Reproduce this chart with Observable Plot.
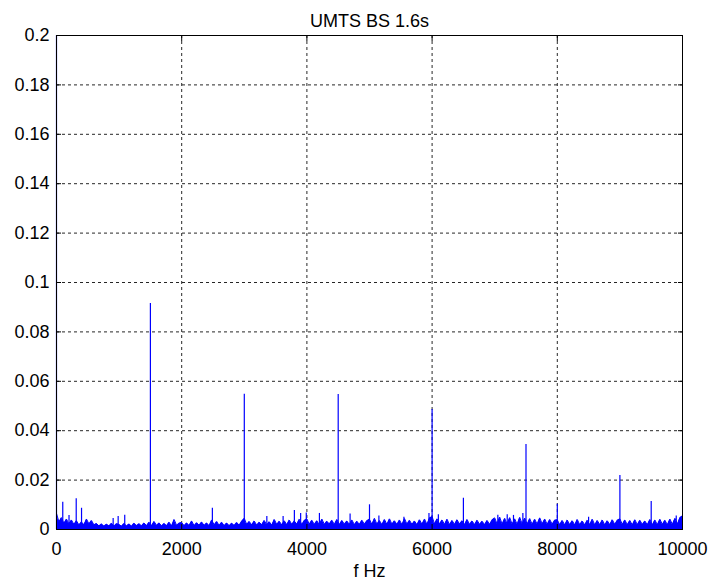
<!DOCTYPE html>
<html>
<head>
<meta charset="utf-8">
<script src="https://cdn.jsdelivr.net/npm/d3@7"></script>
<script src="https://cdn.jsdelivr.net/npm/@observablehq/plot@0.6"></script>
<style>
  html, body { margin: 0; padding: 0; background: #fff; }
  svg { font-family: "Liberation Sans", Arial, sans-serif; }
</style>
</head>
<body>
<div id="chart"></div>
<script>
// ---- Data ----
const title = "UMTS BS 1.6s";
const xLabel = "f Hz";
const xTicks = [0, 2000, 4000, 6000, 8000, 10000];
const yTicks = [0, 0.02, 0.04, 0.06, 0.08, 0.1, 0.12, 0.14, 0.16, 0.18, 0.2];

// noise floor: one value per 40 Hz bin, 0 .. 10000 Hz
const binHz = 40;
const noise = [
  // 0 - 960
  0.0065,0.0030,0.0048,0.0024,0.0042,0.0022,0.0038,0.0020,0.0035,0.0018,0.0030,0.0019,0.0042,0.0022,0.0036,0.0018,0.0024,0.0014,0.0022,0.0013,0.0021,0.0014,0.0025,0.0013,0.0023,
  // 1000 - 1960
  0.0020,0.0013,0.0024,0.0014,0.0022,0.0013,0.0025,0.0015,0.0023,0.0014,0.0026,0.0015,0.0029,0.0015,0.0032,0.0016,0.0026,0.0014,0.0024,0.0015,0.0029,0.0014,0.0040,0.0016,0.0025,
  // 2000 - 2960
  0.0028,0.0015,0.0026,0.0016,0.0034,0.0015,0.0027,0.0017,0.0030,0.0016,0.0026,0.0015,0.0038,0.0018,0.0032,0.0016,0.0029,0.0015,0.0026,0.0015,0.0025,0.0016,0.0028,0.0017,0.0033,
  // 3000 - 3960
  0.0045,0.0020,0.0032,0.0018,0.0034,0.0017,0.0029,0.0019,0.0036,0.0018,0.0031,0.0017,0.0040,0.0020,0.0033,0.0018,0.0035,0.0019,0.0038,0.0020,0.0034,0.0021,0.0041,0.0019,0.0036,
  // 4000 - 4960
  0.0043,0.0021,0.0037,0.0020,0.0035,0.0019,0.0042,0.0020,0.0033,0.0022,0.0037,0.0020,0.0040,0.0019,0.0036,0.0021,0.0034,0.0020,0.0038,0.0019,0.0033,0.0020,0.0037,0.0021,0.0035,
  // 5000 - 5960
  0.0041,0.0020,0.0045,0.0021,0.0036,0.0019,0.0040,0.0020,0.0043,0.0021,0.0035,0.0020,0.0038,0.0019,0.0044,0.0021,0.0037,0.0020,0.0034,0.0019,0.0039,0.0021,0.0042,0.0020,0.0047,
  // 6000 - 6960
  0.0052,0.0022,0.0043,0.0021,0.0038,0.0020,0.0041,0.0019,0.0036,0.0020,0.0039,0.0021,0.0035,0.0019,0.0040,0.0020,0.0034,0.0019,0.0037,0.0020,0.0033,0.0019,0.0036,0.0020,0.0038,
  // 7000 - 7960
  0.0047,0.0022,0.0050,0.0021,0.0045,0.0022,0.0048,0.0021,0.0043,0.0020,0.0049,0.0022,0.0046,0.0021,0.0044,0.0020,0.0041,0.0021,0.0047,0.0022,0.0042,0.0020,0.0040,0.0021,0.0037,
  // 8000 - 8960
  0.0039,0.0019,0.0036,0.0018,0.0038,0.0019,0.0035,0.0018,0.0040,0.0019,0.0034,0.0018,0.0037,0.0019,0.0041,0.0018,0.0036,0.0019,0.0038,0.0018,0.0035,0.0019,0.0039,0.0020,0.0037,
  // 9000 - 10000
  0.0043,0.0020,0.0038,0.0019,0.0036,0.0018,0.0039,0.0019,0.0037,0.0020,0.0034,0.0019,0.0040,0.0018,0.0038,0.0019,0.0041,0.0020,0.0037,0.0019,0.0042,0.0020,0.0045,0.0021,0.0048,0.0055
];

// narrow spectral lines (frequency in Hz, amplitude)
const peakFreq = [0, 100, 200, 315, 400, 905, 985, 1090, 1500, 2490, 3000, 3360, 3620, 3800, 3900, 3990, 4200, 4500, 4690, 5000, 5150, 5550, 5950, 6000, 6100, 6500, 7050, 7200, 7300, 7450, 7500, 8000, 8500, 9000, 9500, 9900];
const peakAmp  = [0.2, 0.011, 0.0057, 0.0125, 0.0086, 0.0045, 0.0053, 0.0058, 0.0915, 0.0086, 0.0548, 0.0053, 0.0053, 0.0077, 0.0065, 0.0067, 0.0065, 0.0547, 0.0063, 0.0100, 0.0055, 0.0050, 0.0065, 0.0486, 0.0060, 0.0127, 0.0058, 0.0060, 0.0057, 0.0065, 0.0344, 0.0102, 0.0050, 0.0219, 0.0113, 0.0055];

// ---- Build tables ----
const noiseData = noise.map((v, i) => ({f: i * binHz, a: v}));
const peakData = peakFreq.map((f, i) => ({f, a: peakAmp[i]}));
const gridX = xTicks.slice(1, -1);
const gridY = yTicks.slice(1, -1);
const font = "'Liberation Sans', Arial, sans-serif";

const chart = Plot.plot({
  width: 710,
  height: 584,
  marginLeft: 56,
  marginRight: 28,
  marginTop: 35,
  marginBottom: 55,
  style: {fontSize: "18px", fontFamily: font, color: "#000", background: "#fff"},
  x: {domain: [0, 10000], ticks: xTicks, label: null},
  y: {domain: [0, 0.2], ticks: yTicks, label: null},
  marks: [
    Plot.ruleX(gridX, {stroke: "#000", strokeDasharray: "3,3", strokeOpacity: 0.85}),
    Plot.ruleY(gridY, {stroke: "#000", strokeDasharray: "3,3", strokeOpacity: 0.85}),
    Plot.areaY(noiseData, {x: "f", y: "a", fill: "#0000ff"}),
    Plot.line(noiseData, {x: "f", y: "a", stroke: "#0000ff", strokeWidth: 1}),
    Plot.ruleX(peakData, {x: "f", y1: 0, y2: "a", stroke: "#0000ff", strokeWidth: 1.2}),
    Plot.frame({stroke: "#000"}),
    Plot.axisX({ticks: xTicks, tickSize: 0, tickPadding: 13, tickFormat: d3.format("d"), label: null, fontSize: 18}),
    Plot.axisX({ticks: xTicks, tickSize: -5, tickFormat: () => "", label: null}),
    Plot.axisX({anchor: "top", ticks: xTicks, tickSize: -5, tickFormat: () => "", label: null}),
    Plot.axisY({ticks: yTicks, tickSize: 0, tickPadding: 7, tickFormat: d => d === 0 ? "0" : String(+d.toFixed(2)), label: null, fontSize: 18}),
    Plot.axisY({ticks: yTicks, tickSize: -5, tickFormat: () => "", label: null}),
    Plot.axisY({anchor: "right", ticks: yTicks, tickSize: -5, tickFormat: () => "", label: null}),
    Plot.text([title], {frameAnchor: "top", dy: -21, fontSize: 18, fill: "#000"}),
    Plot.text([xLabel], {frameAnchor: "bottom", dy: 47, fontSize: 18, fill: "#000"})
  ]
});
document.getElementById("chart").appendChild(chart);
</script>
</body>
</html>
